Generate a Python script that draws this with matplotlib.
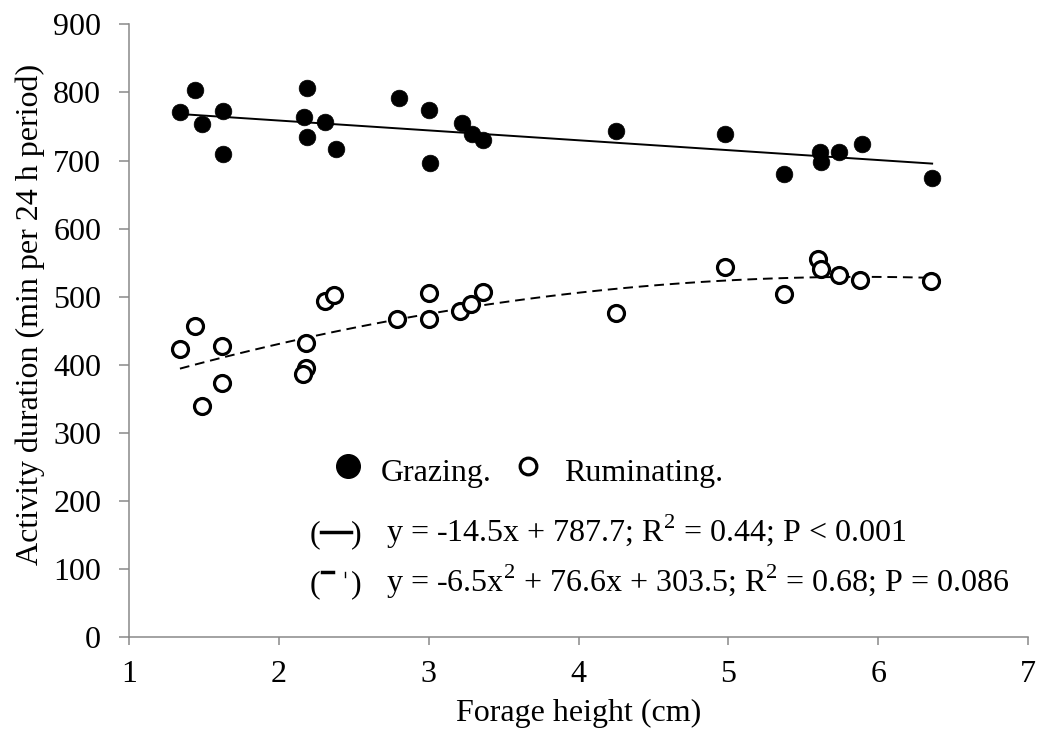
import matplotlib
matplotlib.use("Agg")
import matplotlib.pyplot as plt
import numpy as np

plt.rcParams['font.family'] = ['Liberation Serif', 'DejaVu Serif']
plt.rcParams['mathtext.fontset'] = 'custom'
plt.rcParams['mathtext.rm'] = 'Liberation Serif'

# forage height (cm)
alt_pastejo = [1.34, 1.44, 1.49, 1.63, 1.63, 2.19, 2.17, 2.19, 2.31, 2.38, 2.80, 3.00,
               3.01, 3.22, 3.29, 3.36, 4.25, 4.98, 5.37, 5.61, 5.62, 5.74, 5.89, 6.36]
pastejo = [771, 803, 753, 772, 710, 806, 764, 734, 757, 717, 792, 774,
           696, 755, 739, 730, 743, 739, 680, 712, 698, 712, 724, 675]

alt_rumina = [1.34, 1.44, 1.49, 1.62, 1.62, 2.18, 2.16, 2.18, 2.31, 2.37, 2.79, 3.00,
              3.00, 3.21, 3.28, 3.36, 4.25, 4.98, 5.37, 5.60, 5.62, 5.74, 5.88, 6.35]
ruminacao = [424, 457, 339, 428, 374, 396, 386, 432, 494, 503, 467, 506,
             468, 479, 489, 507, 476, 544, 504, 555, 541, 532, 525, 523]

# equations printed on the chart
coef_lin = [-14.5, 787.7]
coef_quad = [-6.5, 76.6, 303.5]

fs = 23

fig = plt.figure(figsize=(10.42, 7.38), dpi=100)
ax = fig.add_axes([0.1238, 0.1364, 0.8628, 0.8307])

xl = np.linspace(min(alt_pastejo), max(alt_pastejo), 100)
ax.plot(xl, np.polyval(coef_lin, xl), color='black', lw=1.4, zorder=2)
xq = np.linspace(min(alt_rumina), max(alt_rumina), 100)
ax.plot(xq, np.polyval(coef_quad, xq), color='black', lw=1.4, ls=(0, (5, 3)), zorder=2)

ax.plot(alt_pastejo, pastejo, 'o', color='black', ms=12, mec='black', mew=0.5, zorder=3)
ax.plot(alt_rumina, ruminacao, 'o', mfc='white', mec='black', ms=11.5, mew=2.3, zorder=3)

ax.set_xlim(1, 7)
ax.set_ylim(0, 900)
ax.set_xticks(range(1, 8))
ax.set_yticks(range(0, 901, 100))
for s in ['top', 'right']:
    ax.spines[s].set_visible(False)
for s in ['left', 'bottom']:
    ax.spines[s].set_color('#898989')
    ax.spines[s].set_linewidth(1.1)
ax.tick_params(direction='out', width=1.1, color='#898989', labelsize=fs)
ax.tick_params(axis='x', length=6, pad=10)
ax.tick_params(axis='y', length=7, pad=13)
ax.set_xlabel('Forage height (cm)', fontsize=fs, va='baseline')
ax.xaxis.set_label_coords(0.5, -0.1365)
ax.set_ylabel('Activity duration (min per 24 h period)', fontsize=fs, va='center')
ax.yaxis.set_label_coords(-0.11, 0.526)

# legend built by hand, like the original
def px(x, y):
    return x / 1042, 1 - y / 738

tf = fig.transFigure
ax.plot(*px(348, 466), 'o', color='black', ms=17, transform=tf, clip_on=False)
ax.plot(*px(528, 466), 'o', mfc='white', mec='black', ms=12, mew=2.3,
        transform=tf, clip_on=False)
fig.text(*px(381, 481), 'Grazing.', fontsize=fs, va='baseline')
fig.text(*px(564, 481), 'Ruminating.', fontsize=fs, va='baseline')

fig.text(*px(310, 542), '(', fontsize=fs, va='baseline')
fig.text(*px(351, 542), ')', fontsize=fs, va='baseline')
ax.plot([px(321, 0)[0], px(351, 0)[0]], [px(0, 532)[1]] * 2, color='black', lw=2.5,
        transform=tf, clip_on=False)
fig.text(*px(386, 542), 'y = -14.5x + 787.7; R$^2$ = 0.44; P < 0.001', fontsize=fs, va='baseline')

fig.text(*px(310, 592), '(', fontsize=fs, va='baseline')
fig.text(*px(351, 592), ')', fontsize=fs, va='baseline')
ax.plot([px(322, 0)[0], px(333, 0)[0]], [px(0, 572)[1]] * 2, color='black', lw=2.5,
        transform=tf, clip_on=False)
ax.plot([px(345, 0)[0], px(345, 0)[0]], [px(0, 572)[1], px(0, 577)[1]], color='black', lw=1.0,
        transform=tf, clip_on=False)
fig.text(*px(386, 592), 'y = -6.5x$^2$ + 76.6x + 303.5; R$^2$ = 0.68; P = 0.086', fontsize=fs, va='baseline')

fig.savefig('out.png', dpi=100)
